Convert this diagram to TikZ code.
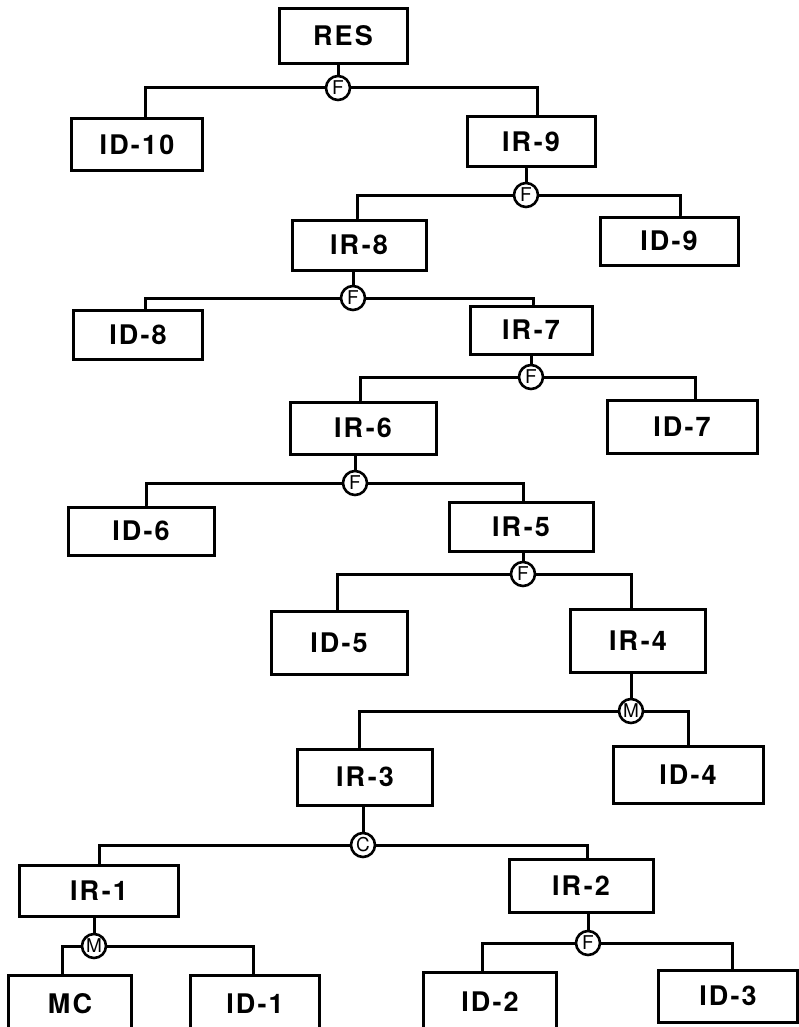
\documentclass[tikz,border=0pt]{standalone}
\usepackage{fontspec}
\usepackage{tikz}
\newfontfamily\boxfont{TeX Gyre Heros}[LetterSpace=8]
\newfontfamily\opfont{TeX Gyre Heros}

\tikzset{
  unit/.style={draw, line width=3pt, inner sep=0pt,
    minimum width=#1, font=\boxfont\fontsize{27}{27}\selectfont\bfseries},
  unit/.default={130pt},
  op/.style={draw, circle, line width=2.6pt, inner sep=0pt,
    minimum size=24pt, font=\opfont\fontsize{19}{19}\selectfont},
  link/.style={line width=3pt, line cap=round, line join=miter}
}

\begin{document}
\begin{tikzpicture}[x=1pt, y=-1pt]
  \useasboundingbox (0,0) rectangle (799,1027);

  % result and first fork
  \node[unit=128pt, minimum height=55pt] (res) at (343,36) {RES};
  \node[op] (f1) at (338,88) {F};
  \node[unit=131pt, minimum height=52pt] (id10) at (137,145) {ID-10};
  \node[unit=128pt, minimum height=50pt] (ir9) at (531,142) {IR-9};

  \node[op] (f2) at (526,195) {F};
  \node[unit=134pt, minimum height=50pt] (ir8) at (359,245) {IR-8};
  \node[unit=138pt, minimum height=48pt] (id9) at (669,241) {ID-9};

  \node[op] (f3) at (353,298) {F};
  \node[unit=129pt, minimum height=49pt] (id8) at (138,335) {ID-8};
  \node[unit=122pt, minimum height=48pt] (ir7) at (531,330) {IR-7};

  \node[op] (f4) at (531,377) {F};
  \node[unit=146pt, minimum height=52pt] (ir6) at (363,428) {IR-6};
  \node[unit=150pt, minimum height=53pt] (id7) at (682,427) {ID-7};

  \node[op] (f5) at (355,483) {F};
  \node[unit=146pt, minimum height=48pt] (id6) at (141,531) {ID-6};
  \node[unit=144pt, minimum height=49pt] (ir5) at (521,527) {IR-5};

  \node[op] (f6) at (523,574) {F};
  \node[unit=136pt, minimum height=63pt] (id5) at (339,643) {ID-5};
  \node[unit=135pt, minimum height=63pt] (ir4) at (638,641) {IR-4};

  \node[op] (m1) at (631,711) {M};
  \node[unit=135pt, minimum height=56pt] (ir3) at (365,777) {IR-3};
  \node[unit=150pt, minimum height=57pt] (id4) at (688,775) {ID-4};

  \node[op] (c1) at (363,845) {C};
  \node[unit=159pt, minimum height=51pt] (ir1) at (99,891) {IR-1};
  \node[unit=144pt, minimum height=53pt] (ir2) at (581,886) {IR-2};

  % bottom row runs off the sheet
  \node[op] (m2) at (94,946) {M};
  \node[unit=123pt, minimum height=58pt] (mc) at (70,1004) {MC};
  \node[unit=129pt, minimum height=58pt] (id1) at (255,1004) {ID-1};

  \node[op] (f7) at (588,943) {F};
  \node[unit=133pt, minimum height=60pt] (id2) at (490,1002) {ID-2};
  \node[unit=139pt, minimum height=52pt] (id3) at (728,996) {ID-3};

  % stems from each unit down to its operator
  \draw[link] (f1.north) -- (f1.north |- res.south);
  \draw[link] (f2.north) -- (f2.north |- ir9.south);
  \draw[link] (f3.north) -- (f3.north |- ir8.south);
  \draw[link] (f4.north) -- (f4.north |- ir7.south);
  \draw[link] (f5.north) -- (f5.north |- ir6.south);
  \draw[link] (f6.north) -- (f6.north |- ir5.south);
  \draw[link] (m1.north) -- (m1.north |- ir4.south);
  \draw[link] (c1.north) -- (c1.north |- ir3.south);
  \draw[link] (m2.north) -- (m2.north |- ir1.south);
  \draw[link] (f7.north) -- (f7.north |- ir2.south);

  % branches
  \draw[link] (f1.west) -| ([xshift=8pt]id10.north);
  \draw[link] (f1.east) -| ([xshift=6pt]ir9.north);
  \draw[link] (f2.west) -| ([xshift=-2pt]ir8.north);
  \draw[link] (f2.east) -| ([xshift=11pt]id9.north);
  \draw[link] (f3.west) -| ([xshift=7pt]id8.north);
  \draw[link] (f3.east) -| ([xshift=2pt]ir7.north);
  \draw[link] (f4.west) -| ([xshift=-3pt]ir6.north);
  \draw[link] (f4.east) -| ([xshift=13pt]id7.north);
  \draw[link] (f5.west) -| ([xshift=5pt]id6.north);
  \draw[link] (f5.east) -| ([xshift=2pt]ir5.north);
  \draw[link] (f6.west) -| ([xshift=-2pt]id5.north);
  \draw[link] (f6.east) -| ([xshift=-7pt]ir4.north);
  \draw[link] (m1.west) -| ([xshift=-6pt]ir3.north);
  \draw[link] (m1.east) -| (id4.north);
  \draw[link] (c1.west) -| (ir1.north);
  \draw[link] (c1.east) -| ([xshift=6pt]ir2.north);
  \draw[link] (m2.west) -| ([xshift=-8pt]mc.north);
  \draw[link] (m2.east) -| ([xshift=-2pt]id1.north);
  \draw[link] (f7.west) -| ([xshift=-8pt]id2.north);
  \draw[link] (f7.east) -| ([xshift=4pt]id3.north);
\end{tikzpicture}
\end{document}
